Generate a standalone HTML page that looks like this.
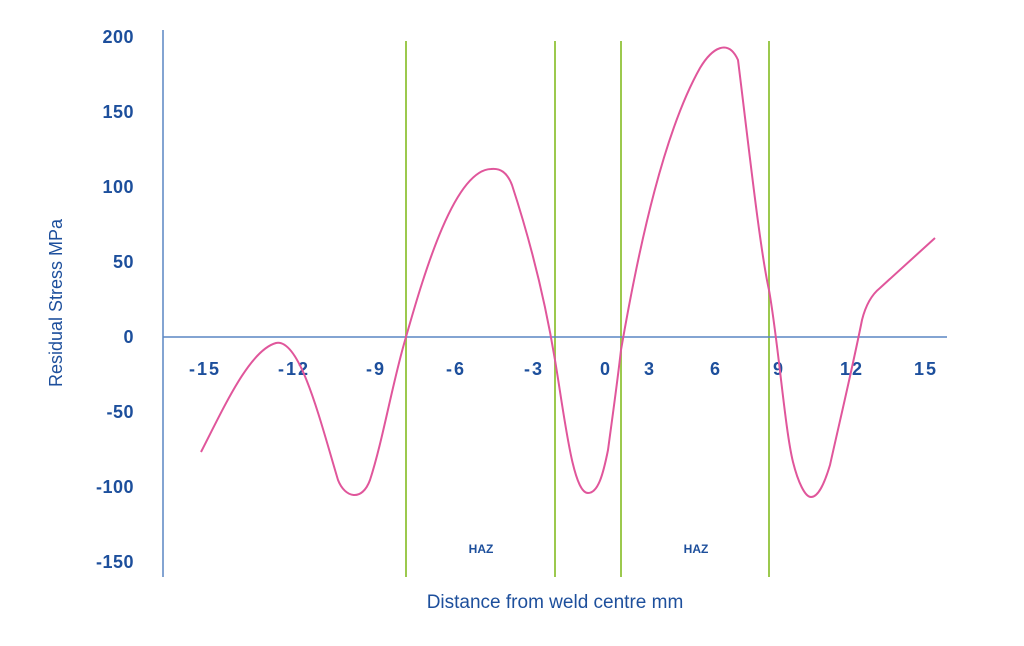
<!DOCTYPE html>
<html><head><style>
body{margin:0;background:#fff;}
svg text{font-family:"Liberation Sans",sans-serif;fill:#1d4f9c;}
</style></head><body>
<svg width="1024" height="641" viewBox="0 0 1024 641">
<g font-size="18" font-weight="bold" text-anchor="end" letter-spacing="0.5">
<text x="134" y="43">200</text>
<text x="134" y="118">150</text>
<text x="134" y="193">100</text>
<text x="134" y="268">50</text>
<text x="134" y="343">0</text>
<text x="134" y="418">-50</text>
<text x="134" y="493">-100</text>
<text x="134" y="568">-150</text>
</g>
<g font-size="18" font-weight="bold" text-anchor="middle" letter-spacing="2">
<text x="205" y="375">-15</text>
<text x="294" y="375">-12</text>
<text x="376" y="375">-9</text>
<text x="456" y="375">-6</text>
<text x="534" y="375">-3</text>
<text x="606" y="375">0</text>
<text x="650" y="375">3</text>
<text x="716" y="375">6</text>
<text x="779" y="375">9</text>
<text x="852" y="375">12</text>
<text x="926" y="375">15</text>
</g>
<text x="481" y="553" font-size="12" font-weight="bold" text-anchor="middle">HAZ</text>
<text x="696" y="553" font-size="12" font-weight="bold" text-anchor="middle">HAZ</text>
<text x="555" y="608" font-size="19" text-anchor="middle">Distance from weld centre mm</text>
<text transform="translate(62,303) rotate(-90)" font-size="18" text-anchor="middle">Residual Stress MPa</text>
<g stroke="#9cc94e" stroke-width="2">
<line x1="406" y1="41" x2="406" y2="577"/>
<line x1="555" y1="41" x2="555" y2="577"/>
<line x1="621" y1="41" x2="621" y2="577"/>
<line x1="769" y1="41" x2="769" y2="577"/>
</g>
<g stroke="#5a86c4" stroke-width="1.5">
<line x1="163" y1="30" x2="163" y2="577"/>
<line x1="163" y1="337" x2="947" y2="337"/>
</g>
<path d="M201,452 C225,405 250,350 276,343 C300,338 320,420 338,480 C345,498 362,502 370,480 C383,440 393,380 406,337 C425,270 455,170 491,169 C500,168 507,172 512,185 C530,240 545,300 555,360 C565,420 573,493 588,493 C598,493 603,475 608,450 C612,420 617,385 621,350 C640,240 665,130 700,68 C712,48 728,38 738,60 C748,140 760,250 769,290 C778,340 785,430 793,462 C798,482 805,497 811,497 C818,497 824,485 830,465 C840,420 852,370 862,320 C867,300 875,292 880,288 L935,238" fill="none" stroke="#e0569b" stroke-width="2"/>
</svg>
</body></html>
